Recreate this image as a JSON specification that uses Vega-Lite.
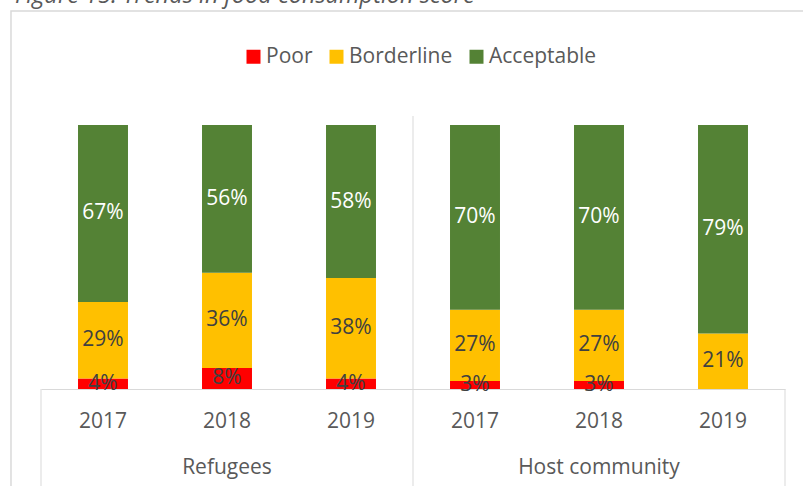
{
  "$schema": "https://vega.github.io/schema/vega-lite/v6.json",
  "autosize": {"type": "none"},
  "width": 744,
  "height": 264,
  "padding": {"left": 41, "top": 125, "right": 18, "bottom": 97},
  "background": "white",
  "config": {
    "view": {"stroke": null},
    "font": "Open Sans",
    "text": {"font": "Open Sans"}
  },
  "title": {
    "text": "Figure 15: Trends in food consumption score",
    "anchor": "start",
    "frame": "group",
    "orient": "top",
    "offset": 0,
    "baseline": "alphabetic",
    "dx": -26,
    "dy": 16,
    "font": "Open Sans",
    "fontStyle": "italic",
    "fontWeight": "normal",
    "fontSize": 23.5,
    "color": "#595959"
  },
  "data": {
    "values": [
      {"group": "Refugees", "year": "2017", "category": "Poor", "value": 4},
      {"group": "Refugees", "year": "2017", "category": "Borderline", "value": 29},
      {"group": "Refugees", "year": "2017", "category": "Acceptable", "value": 67},
      {"group": "Refugees", "year": "2018", "category": "Poor", "value": 8},
      {"group": "Refugees", "year": "2018", "category": "Borderline", "value": 36},
      {"group": "Refugees", "year": "2018", "category": "Acceptable", "value": 56},
      {"group": "Refugees", "year": "2019", "category": "Poor", "value": 4},
      {"group": "Refugees", "year": "2019", "category": "Borderline", "value": 38},
      {"group": "Refugees", "year": "2019", "category": "Acceptable", "value": 58},
      {"group": "Host community", "year": "2017", "category": "Poor", "value": 3},
      {"group": "Host community", "year": "2017", "category": "Borderline", "value": 27},
      {"group": "Host community", "year": "2017", "category": "Acceptable", "value": 70},
      {"group": "Host community", "year": "2018", "category": "Poor", "value": 3},
      {"group": "Host community", "year": "2018", "category": "Borderline", "value": 27},
      {"group": "Host community", "year": "2018", "category": "Acceptable", "value": 70},
      {"group": "Host community", "year": "2019", "category": "Poor", "value": 0},
      {"group": "Host community", "year": "2019", "category": "Borderline", "value": 21},
      {"group": "Host community", "year": "2019", "category": "Acceptable", "value": 79}
    ]
  },
  "transform": [
    {"calculate": "datum.group + '|' + datum.year", "as": "key"},
    {"calculate": "indexof(['Poor','Borderline','Acceptable'], datum.category)", "as": "ord"},
    {"stack": "value", "groupby": ["key"], "sort": [{"field": "ord", "order": "ascending"}], "as": ["v0", "v1"]},
    {"calculate": "(datum.v0 + datum.v1) / 2", "as": "mid"},
    {"calculate": "datum.value + '%'", "as": "label"}
  ],
  "encoding": {
    "x": {
      "field": "key",
      "type": "nominal",
      "scale": {
        "type": "band",
        "domain": ["Refugees|2017", "Refugees|2018", "Refugees|2019", "Host community|2017", "Host community|2018", "Host community|2019"],
        "paddingInner": 0,
        "paddingOuter": 0
      },
      "axis": {
        "title": null,
        "labelAngle": 0,
        "ticks": false,
        "domainColor": "#d9d9d9",
        "domainWidth": 1,
        "labelFont": "Open Sans",
        "labelFontSize": 21,
        "labelColor": "#595959",
        "labelPadding": 21,
        "labelLineHeight": 46,
        "labelExpr": "(datum.value == 'Refugees|2018' || datum.value == 'Host community|2018') ? [split(datum.value,'|')[1], split(datum.value,'|')[0]] : split(datum.value,'|')[1]"
      }
    }
  },
  "layer": [
    {
      "mark": {"type": "bar", "width": {"band": 0.403}},
      "encoding": {
        "y": {"field": "v0", "type": "quantitative", "scale": {"domain": [0, 100]}, "axis": null},
        "y2": {"field": "v1"},
        "color": {
          "field": "category",
          "type": "nominal",
          "scale": {"domain": ["Poor", "Borderline", "Acceptable"], "range": ["#FF0000", "#FFC000", "#548235"]},
          "legend": {
            "title": null,
            "orient": "none",
            "direction": "horizontal",
            "legendX": 202,
            "legendY": -79,
            "padding": 0,
            "symbolType": "square",
            "symbolSize": 196,
            "symbolStrokeWidth": 0,
            "labelFont": "Open Sans",
            "labelFontSize": 21,
            "labelColor": "#595959",
            "labelOffset": 2,
            "columnPadding": 13
          }
        }
      }
    },
    {
      "transform": [{"filter": "datum.value > 0"}],
      "mark": {"type": "text", "font": "Open Sans", "fontSize": 21, "baseline": "middle", "align": "center"},
      "encoding": {
        "y": {"field": "mid", "type": "quantitative"},
        "text": {"field": "label"},
        "color": {
          "condition": {"test": "datum.category == 'Acceptable'", "value": "white"},
          "value": "#404040"
        }
      }
    },
    {
      "data": {"values": [{}]},
      "mark": {"type": "rule", "color": "#d9d9d9", "strokeWidth": 1, "clip": false},
      "encoding": {
        "x": {"datum": "Host community|2017", "bandPosition": 0},
        "y": {"datum": 103.4},
        "y2": {"datum": -60}
      }
    },
    {
      "data": {"values": [{}]},
      "mark": {"type": "rule", "color": "#d9d9d9", "strokeWidth": 1, "clip": false},
      "encoding": {
        "x": {"datum": "Refugees|2017", "bandPosition": 0},
        "y": {"datum": 0},
        "y2": {"datum": -60}
      }
    },
    {
      "data": {"values": [{}]},
      "mark": {"type": "rule", "color": "#d9d9d9", "strokeWidth": 1, "clip": false},
      "encoding": {
        "x": {"datum": "Host community|2019", "bandPosition": 1},
        "y": {"datum": 0},
        "y2": {"datum": -60}
      }
    },
    {
      "data": {"values": [{}]},
      "mark": {"type": "rect", "fill": null, "fillOpacity": 0, "stroke": "#d9d9d9", "strokeWidth": 1.5, "clip": false},
      "encoding": {
        "x": {"datum": "Refugees|2017", "bandPosition": -0.242},
        "x2": {"datum": "Host community|2019", "bandPosition": 1.6},
        "y": {"datum": 143.2},
        "y2": {"datum": -60}
      }
    }
  ]
}
